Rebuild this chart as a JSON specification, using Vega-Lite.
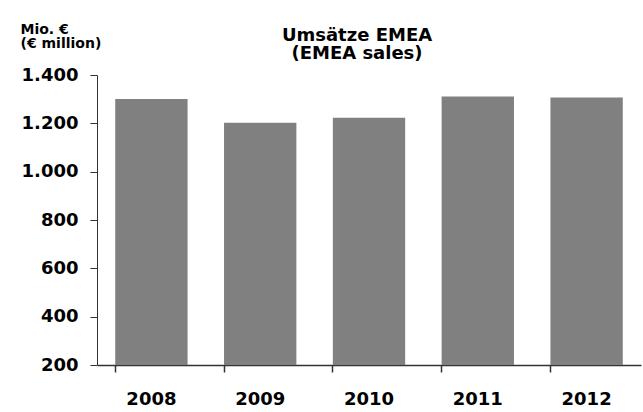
{
  "$schema": "https://vega.github.io/schema/vega-lite/v6.json",
  "width": 544,
  "height": 290,
  "autosize": "none",
  "padding": {"left": 97, "top": 75, "right": 2, "bottom": 47},
  "background": "white",
  "config": {
    "view": {"stroke": null},
    "font": "DejaVu Sans",
    "axis": {"labelFont": "DejaVu Sans", "labelFontWeight": "bold", "labelFontSize": 18, "labelColor": "#000000", "domainColor": "#333333", "tickColor": "#333333", "grid": false}
  },
  "title": {
    "text": ["Umsätze EMEA", "(EMEA sales)"],
    "font": "DejaVu Sans",
    "fontSize": 18,
    "fontWeight": "bold",
    "color": "#000000",
    "anchor": "middle",
    "frame": "group",
    "lineHeight": 18,
    "offset": 14,
    "dx": -12,
    "dy": 55
  },
  "data": {
    "values": [
      {"year": "2008", "sales": 1301},
      {"year": "2009", "sales": 1202},
      {"year": "2010", "sales": 1223},
      {"year": "2011", "sales": 1311},
      {"year": "2012", "sales": 1307}
    ]
  },
  "layer": [
    {
      "mark": {"type": "bar", "color": "#808080"},
      "encoding": {
        "x": {
          "field": "year", "type": "ordinal",
          "scale": {"paddingInner": 0.335, "paddingOuter": 0.1675},
          "axis": {"title": null, "labelAngle": 0, "ticks": false, "labelPadding": 25, "domainWidth": 1.5, "orient": "bottom"}
        },
        "y": {
          "field": "sales", "type": "quantitative",
          "scale": {"domain": [200, 1400], "nice": false, "zero": false},
          "axis": {
            "title": ["Mio. €", "(€ million)"],
            "titleAngle": 0, "titleAlign": "left", "titleBaseline": "alphabetic",
            "titleFont": "DejaVu Sans", "titleFontSize": 14, "titleFontWeight": "bold", "titleColor": "#000000",
            "titleLineHeight": 14,
            "titleX": -77, "titleY": -42,
            "values": [200, 400, 600, 800, 1000, 1200, 1400],
            "format": ",d",
            "labelExpr": "replace(datum.label, ',', '.')",
            "tickSize": 7, "labelPadding": 12, "domainWidth": 1
          }
        },
        "y2": {"datum": 200}
      }
    },
    {
      "mark": {"type": "bar", "opacity": 0},
      "encoding": {
        "x": {
          "field": "year", "type": "ordinal",
          "axis": {"title": null, "labels": false, "domain": false, "bandPosition": 0, "tickSize": 7, "tickWidth": 1.5, "orient": "bottom"}
        },
        "y": {"field": "sales", "type": "quantitative"},
        "y2": {"datum": 200}
      }
    }
  ],
  "resolve": {"axis": {"x": "independent"}}
}
